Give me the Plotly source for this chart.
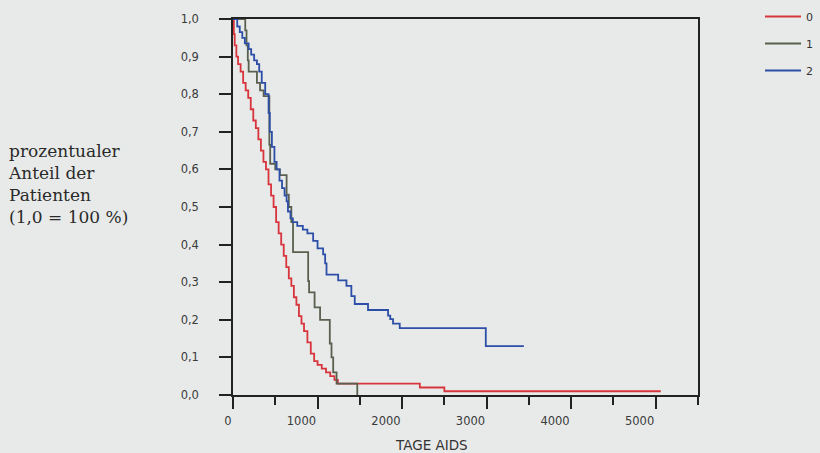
import plotly.graph_objects as go

# ---- data ----
group_names = ["0", "1", "2"]

t0 = [0, 10, 20, 40, 60, 90, 120, 150, 180, 210, 240, 270, 300, 330, 360, 390, 420, 450, 480,
      510, 540, 570, 600, 630, 660, 690, 720, 750, 780, 810, 840, 880, 920, 960, 1000, 1050,
      1100, 1150, 1200, 1240, 2210, 2500, 5060]
s0 = [1.0, 0.96, 0.93, 0.90, 0.88, 0.86, 0.83, 0.81, 0.79, 0.76, 0.73, 0.71, 0.68, 0.65, 0.62,
      0.60, 0.56, 0.53, 0.50, 0.46, 0.43, 0.40, 0.37, 0.34, 0.31, 0.29, 0.26, 0.24, 0.21, 0.19,
      0.17, 0.14, 0.11, 0.09, 0.08, 0.07, 0.06, 0.05, 0.04, 0.03, 0.02, 0.01, 0.01]

t1 = [0, 145, 160, 175, 185, 283, 320, 362, 430, 440, 500, 555, 634, 660, 690, 710, 889, 900,
      965, 1030, 1145, 1165, 1185, 1225, 1470]
s1 = [1.0, 0.97, 0.93, 0.89, 0.86, 0.83, 0.81, 0.795, 0.665, 0.615, 0.60, 0.585, 0.533, 0.50,
      0.46, 0.38, 0.303, 0.273, 0.233, 0.20, 0.137, 0.10, 0.06, 0.03, 0.0]

t2 = [0, 50, 80, 110, 140, 185, 215, 250, 283, 310, 340, 381, 421, 435, 460, 490, 516, 550, 580,
      610, 634, 650, 680, 708, 760, 826, 880, 948, 1000, 1066, 1090, 1106, 1244, 1342, 1400,
      1440, 1597, 1834, 1860, 1893, 1972, 2990, 3440]
s2 = [1.0, 0.98, 0.965, 0.95, 0.935, 0.92, 0.905, 0.89, 0.88, 0.86, 0.83, 0.80, 0.75, 0.70,
      0.66, 0.62, 0.60, 0.57, 0.55, 0.53, 0.515, 0.488, 0.47, 0.46, 0.45, 0.44, 0.43, 0.41,
      0.39, 0.374, 0.35, 0.32, 0.305, 0.29, 0.263, 0.242, 0.226, 0.211, 0.202, 0.19, 0.178,
      0.13, 0.13]

x_tickvals = [0, 1000, 2000, 3000, 4000, 5000]
x_ticktext = ["0", "1000", "2000", "3000", "4000", "5000"]
y_tickvals = [0.0, 0.1, 0.2, 0.3, 0.4, 0.5, 0.6, 0.7, 0.8, 0.9, 1.0]
y_ticktext = ["0,0", "0,1", "0,2", "0,3", "0,4", "0,5", "0,6", "0,7", "0,8", "0,9", "1,0"]

x_title = "TAGE AIDS"
y_title = "prozentualer<br>Anteil der<br>Patienten<br>(1,0 = 100 %)"

colors = ["#d8343c", "#59604f", "#2c4ea6"]
bg = "#e8eaea"

fig = go.Figure()
for name, t, s, c in zip(group_names, [t0, t1, t2], [s0, s1, s2], colors):
    fig.add_trace(go.Scatter(x=t, y=s, mode="lines", name=name, legendgroup=name,
                             line=dict(color=c, width=1.8, shape="hv")))

axis_font = dict(family="DejaVu Sans, Verdana, sans-serif", size=11.5, color="#3a3a3a")

fig.update_layout(
    width=820, height=453,
    margin=dict(l=233, r=122, t=16, b=58),
    paper_bgcolor=bg, plot_bgcolor=bg,
    showlegend=True,
    legend=dict(xref="container", yref="container", x=760 / 820, y=1 - 2 / 453,
                xanchor="left", yanchor="top",
                bgcolor="rgba(0,0,0,0)",
                font=dict(family="DejaVu Sans, Verdana", size=11, color="#333"),
                tracegroupgap=8, itemwidth=36),
    xaxis=dict(range=[0, 5500], showgrid=False, zeroline=False,
               showline=True, linecolor="#222", linewidth=1.5, mirror=True,
               ticks="outside", ticklen=12, tickwidth=1.5, tickcolor="#222",
               tickvals=x_tickvals, ticktext=x_ticktext, tickfont=axis_font,
               ticklabelposition="outside left", ticklabelstandoff=14,
               minor=dict(ticks="outside", ticklen=8, tickwidth=1.5, tickcolor="#222", dtick=500, tick0=0)),
    yaxis=dict(range=[0, 1.0], showgrid=False, zeroline=False,
               showline=True, linecolor="#222", linewidth=1.5, mirror=True,
               ticks="outside", ticklen=12, tickwidth=1.5, tickcolor="#222",
               tickvals=y_tickvals, ticktext=y_ticktext, tickfont=axis_font,
               ticklabelstandoff=18),
)

fig.add_annotation(text=x_title, xref="paper", yref="paper", x=(431 - 233) / 465, y=-(445 - 395) / 379,
                   xanchor="center", yanchor="middle", showarrow=False,
                   font=dict(family="DejaVu Sans, Arial", size=13.5, color="#333"))
fig.add_annotation(text=y_title, xref="paper", yref="paper", x=(6 - 233) / 465, y=(395 - 182) / 379,
                   xanchor="left", yanchor="middle", align="left", showarrow=False,
                   font=dict(family="DejaVu Serif, Liberation Serif, serif", size=17, color="#2a2a2a"))

fig.write_html("out.html", config={"displayModeBar": False},
               post_script="document.body.style.margin='0';document.body.style.background='#e8eaea';")
